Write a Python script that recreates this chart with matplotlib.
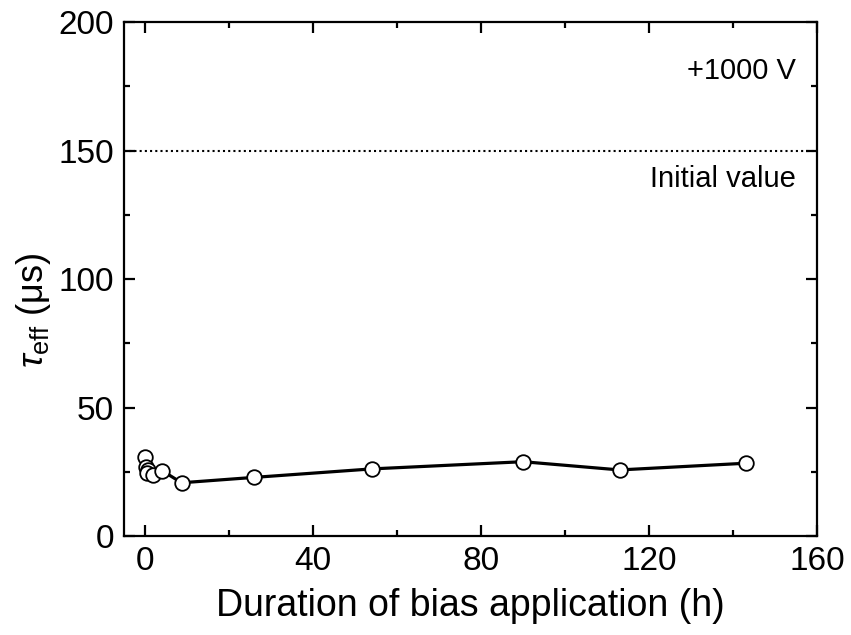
import numpy as np
import matplotlib
matplotlib.use('Agg')
import matplotlib.pyplot as plt
from matplotlib.ticker import MultipleLocator

matplotlib.rcParams['font.family'] = ['Liberation Sans', 'DejaVu Sans']
matplotlib.rcParams['mathtext.fontset'] = 'custom'
matplotlib.rcParams['mathtext.rm'] = 'Liberation Sans'
matplotlib.rcParams['mathtext.it'] = 'Liberation Sans:italic'

# duration of bias application (h) and effective lifetime (us)
hours = [0, 0.25, 0.8, 0.4, 2, 4.1, 8.7, 26, 54, 90, 113, 143]
tau = [30.6, 26.7, 25.7, 24.6, 23.7, 25.4, 20.7, 22.8, 26.1, 28.9, 25.7, 28.3]
initial_value = 150

fig = plt.figure(figsize=(8.51, 6.35), dpi=100)
ax = fig.add_axes([0.1457, 0.156, 0.8143, 0.809])

ax.axhline(initial_value, color='black', linestyle=(0, (1, 1.5)), linewidth=1.5)
ax.plot(hours, tau, color='black', linewidth=2.3, marker='o', markersize=10.5,
        markerfacecolor='white', markeredgecolor='black', markeredgewidth=1.3)

ax.set_xlim(-5, 160)
ax.set_ylim(0, 200)
ax.xaxis.set_major_locator(MultipleLocator(40))
ax.xaxis.set_minor_locator(MultipleLocator(20))
ax.yaxis.set_major_locator(MultipleLocator(50))
ax.yaxis.set_minor_locator(MultipleLocator(25))
ax.tick_params(which='both', direction='in', top=True, right=True, width=1.6,
               labelsize=24, pad=7)
ax.tick_params(which='major', length=8)
ax.tick_params(which='minor', length=4.5)
for s in ax.spines.values():
    s.set_linewidth(1.6)

ax.set_xlabel('Duration of bias application (h)', fontsize=27, labelpad=8)
ax.set_ylabel(r'$\tau_{\rm eff}$ (μs)', fontsize=26)
ax.yaxis.set_label_coords(-0.102, 0.44)

ax.text(155, 181, '+1000 V', ha='right', va='center', fontsize=21)
ax.text(155, 139, 'Initial value', ha='right', va='center', fontsize=21)

fig.savefig('out.png', dpi=100)
